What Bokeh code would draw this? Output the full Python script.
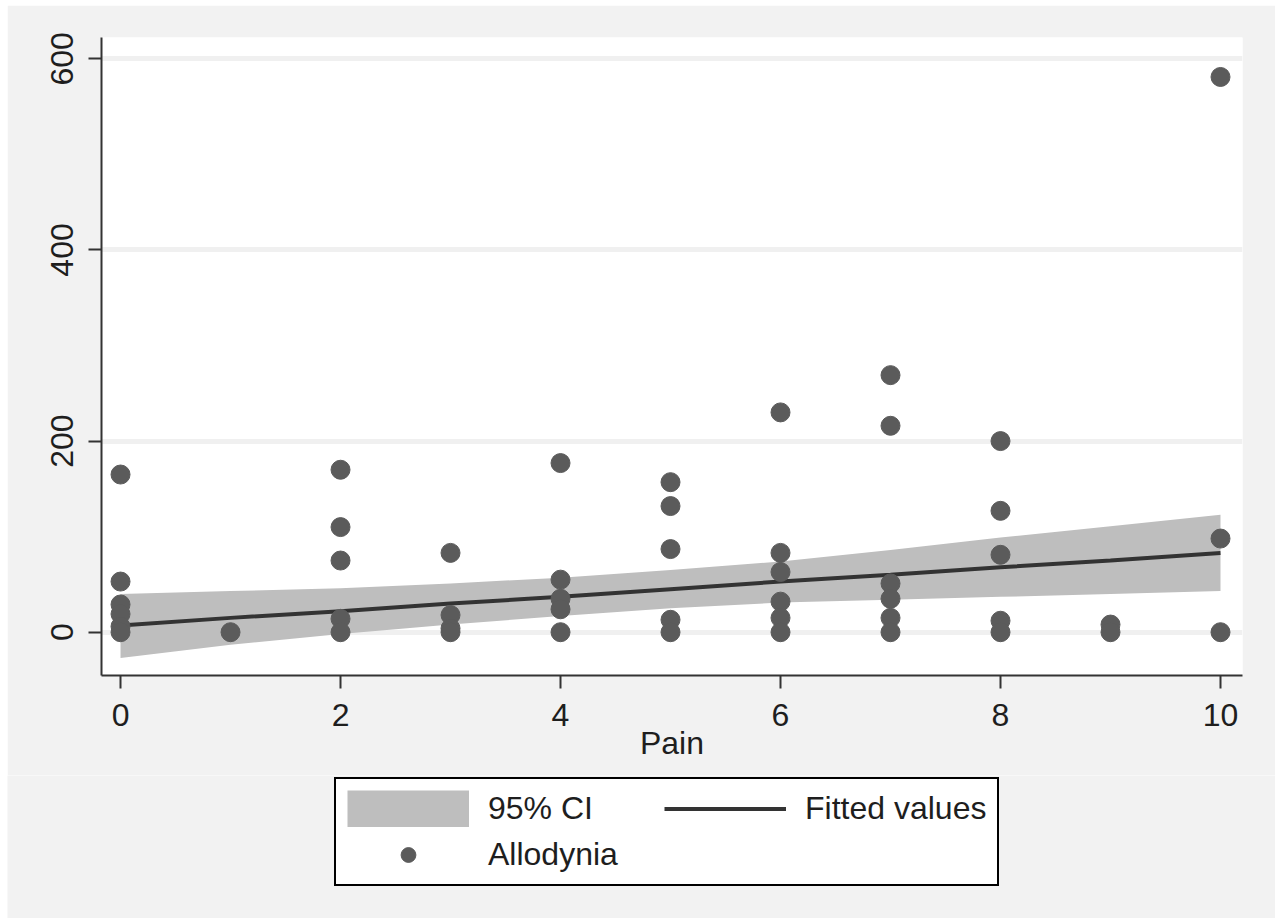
from bokeh.plotting import figure
from bokeh.layouts import column
from bokeh.models import Range1d, FixedTicker, Legend, LegendItem, ColumnDataSource
from bokeh.embed import file_html
from bokeh.resources import INLINE

# --- data ---
pain = [0, 0, 0, 0, 0, 0,
        1,
        2, 2, 2, 2, 2,
        3, 3, 3, 3,
        4, 4, 4, 4, 4,
        5, 5, 5, 5, 5,
        6, 6, 6, 6, 6, 6,
        7, 7, 7, 7, 7, 7,
        8, 8, 8, 8, 8,
        9, 9,
        10, 10, 10]
allodynia = [165, 53, 29, 19, 6, 0,
             0,
             170, 110, 75, 14, 0,
             83, 18, 4, 0,
             177, 55, 35, 24, 0,
             157, 132, 87, 13, 0,
             230, 83, 63, 32, 15, 0,
             269, 216, 51, 35, 15, 0,
             200, 127, 81, 12, 0,
             8, 0,
             581, 98, 0]

fit_x = [0, 1, 2, 3, 4, 5, 6, 7, 8, 9, 10]
fit_y = [7, 15, 22, 30, 37, 45, 53, 60, 68, 75, 83]
ci_lower = [-27, -13, -2, 8, 17, 25, 31, 34, 37, 40, 43]
ci_upper = [40, 43, 46, 51, 57, 65, 74, 86, 99, 111, 123]

x_ticks = [0, 2, 4, 6, 8, 10]
y_ticks = [0, 200, 400, 600]
x_title = "Pain"
legend_labels = ["95% CI", "Fitted values", "Allodynia"]

FONT = "Liberation Sans"
BG = "#f2f2f2"
TXT = "#1e1e1e"
BAND = "#bebebe"
LINE = "#333333"
DOT = "#5b5b5b"

# ---------------- main plot ----------------
p = figure(width=1268, height=770, output_backend="svg", toolbar_location=None,
           x_range=Range1d(-0.173, 10.2), y_range=Range1d(-45.3, 622.3),
           min_border_left=94, min_border_right=33, min_border_top=32,
           min_border_bottom=100,
           background_fill_color="white", border_fill_color=BG,
           outline_line_color=None)
p.margin = (5, 0, 0, 7)

band_src = ColumnDataSource(dict(x=fit_x, lo=ci_lower, hi=ci_upper, y=fit_y))
pts_src = ColumnDataSource(dict(x=pain, y=allodynia))

p.varea(x="x", y1="lo", y2="hi", source=band_src, fill_color=BAND)
p.line(x="x", y="y", source=band_src, line_color=LINE, line_width=4)
p.scatter(x="x", y="y", source=pts_src, size=19, marker="circle",
          fill_color=DOT, line_color=DOT)

p.xgrid.visible = False
p.ygrid.ticker = FixedTicker(ticks=y_ticks)
p.ygrid.grid_line_color = "#f0f0f0"
p.ygrid.grid_line_width = 5
p.ygrid.level = "underlay"

for ax in (p.xaxis[0], p.yaxis[0]):
    ax.axis_line_color = LINE
    ax.axis_line_width = 2
    ax.major_tick_line_color = LINE
    ax.major_tick_line_width = 2
    ax.major_tick_out = 13
    ax.major_tick_in = 0
    ax.minor_tick_line_color = None
    ax.major_label_text_font = FONT
    ax.major_label_text_font_size = "32px"
    ax.major_label_text_color = TXT
    ax.major_label_standoff = 15

p.xaxis[0].ticker = FixedTicker(ticks=x_ticks)
p.yaxis[0].ticker = FixedTicker(ticks=y_ticks)
p.yaxis[0].major_label_orientation = "vertical"
p.xaxis[0].axis_label = x_title
p.xaxis[0].axis_label_text_font = FONT
p.xaxis[0].axis_label_text_font_size = "32px"
p.xaxis[0].axis_label_text_font_style = "normal"
p.xaxis[0].axis_label_text_color = TXT
p.xaxis[0].axis_label_standoff = -4

# ---------------- legend strip ----------------
q = figure(width=1268, height=143, output_backend="svg", toolbar_location=None,
           x_range=Range1d(0, 1), y_range=Range1d(0, 1),
           x_axis_type=None, y_axis_type=None,
           min_border=0, background_fill_color=BG, border_fill_color=BG,
           outline_line_color=None)
q.frame_align = False
q.margin = (0, 0, 0, 7)
q.grid.visible = False

# legend proxies: placed outside the strip's visible range
proxy = ColumnDataSource(dict(x=[-5, -4], y=[-5, -4]))
lg_band = q.line(x="x", y="y", source=proxy, line_color=BAND, line_width=37,
                 line_cap="butt")
lg_line = q.line(x="x", y="y", source=proxy, line_color=LINE, line_width=4)
lg_dot = q.scatter(x="x", y="y", source=proxy, marker="circle", size=19,
                   fill_color=DOT, line_color=DOT)

legend = Legend(items=[LegendItem(label=legend_labels[0], renderers=[lg_band]),
                       LegendItem(label=legend_labels[1], renderers=[lg_line]),
                       LegendItem(label=legend_labels[2], renderers=[lg_dot])],
                location=(327, 32), orientation="horizontal", ncols=2,
                label_text_font=FONT, label_text_font_size="32px",
                label_text_color=TXT, label_standoff=19, label_width=167,
                glyph_width=122, glyph_height=37, spacing=9, padding=11,
                border_line_color="black", border_line_alpha=1.0,
                border_line_width=2,
                background_fill_color="white", background_fill_alpha=1.0,
                margin=0)
q.add_layout(legend, "center")

layout = column(p, q, spacing=0)
open("out.html", "w").write(file_html(layout, INLINE))
